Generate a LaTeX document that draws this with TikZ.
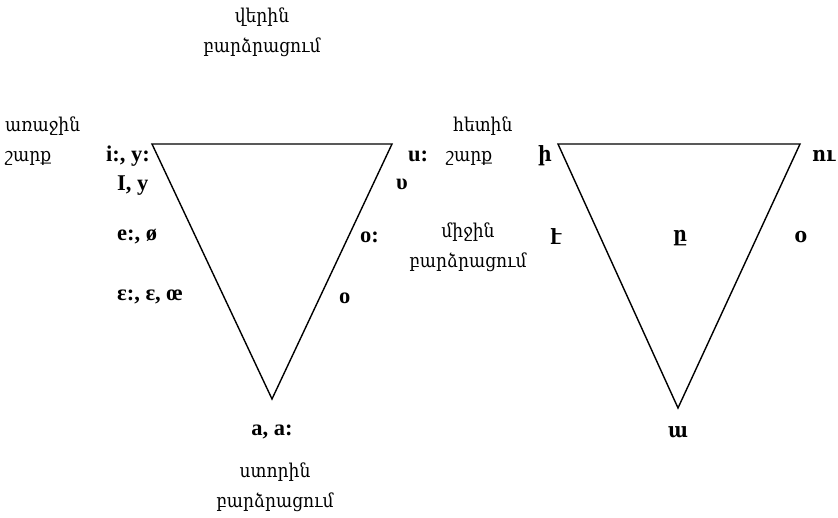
\documentclass[tikz,border=0pt]{standalone}
\usepackage{fontspec}
\setmainfont{Liberation Serif}
\newfontfamily\arm{DejaVu Serif Condensed}
\begin{document}
\begin{tikzpicture}[x=1pt,y=-1pt,
  lbl/.style={font=\fontsize{22.5}{26}\selectfont\bfseries, inner sep=0pt},
  arml/.style={font=\arm\fontsize{19}{30}\selectfont, inner sep=0pt, align=center},
  armll/.style={font=\arm\fontsize{19}{30}\selectfont, inner sep=0pt, align=left},
  armb/.style={font=\arm\fontsize{21}{24}\selectfont\bfseries, inner sep=0pt},
  tri/.style={draw, line width=1.4pt, line join=miter}]
\useasboundingbox (0,0) rectangle (838,518);
% triangle 1
\coordinate (a1) at (152,144);
\coordinate (b1) at (392,144);
\coordinate (c1) at (272,399);
\draw[tri] (a1) -- (b1) -- (c1) -- cycle;
% triangle 2
\coordinate (a2) at (558,144);
\coordinate (b2) at (800,144);
\coordinate (c2) at (678,408);
\draw[tri] (a2) -- (b2) -- (c2) -- cycle;
% Armenian captions
\node[arml] (top) at (262,32) {վերին\\բարձրացում};
\node[armll, anchor=west] (front) at (5,141) {առաջին\\շարք};
\node[arml] (mid) at (468,247) {միջին\\բարձրացում};
\node[armll, anchor=west] (back) at (446,141) {\hspace*{7pt}հետին\\շարք};
\node[arml] (low) at (275,487) {ստորին\\բարձրացում};
% IPA labels
\node[lbl, anchor=east] (iy) at (150,156) {i:, y:};
\node[lbl, anchor=west] (Iy) at (117,186) {I, y};
\node[lbl, anchor=west] (ee) at (117,237) {e:, ø};
\node[lbl, anchor=west] (eps) at (117,297) {ɛ:, ɛ, œ};
\node[lbl] (aa) at (272,432) {a, a:};
\node[lbl, anchor=west] (uu) at (408,156) {u:};
\node[lbl, anchor=west] (ups) at (396,184) {υ};
\node[lbl, anchor=west] (oo) at (360,237) {o:};
\node[lbl, anchor=west] (o) at (339,298) {o};
% Armenian letters
\node[armb, anchor=west] (hi) at (538,156) {ի};
\node[armb, anchor=west] (hu) at (812,156) {ու};
\node[armb, anchor=west] (he) at (550,237) {է};
\node[armb] (hy) at (680,238) {ը};
\node[armb] (ho) at (801,237) {օ};
\node[armb] (ha) at (678,432) {ա};
\end{tikzpicture}
\end{document}
